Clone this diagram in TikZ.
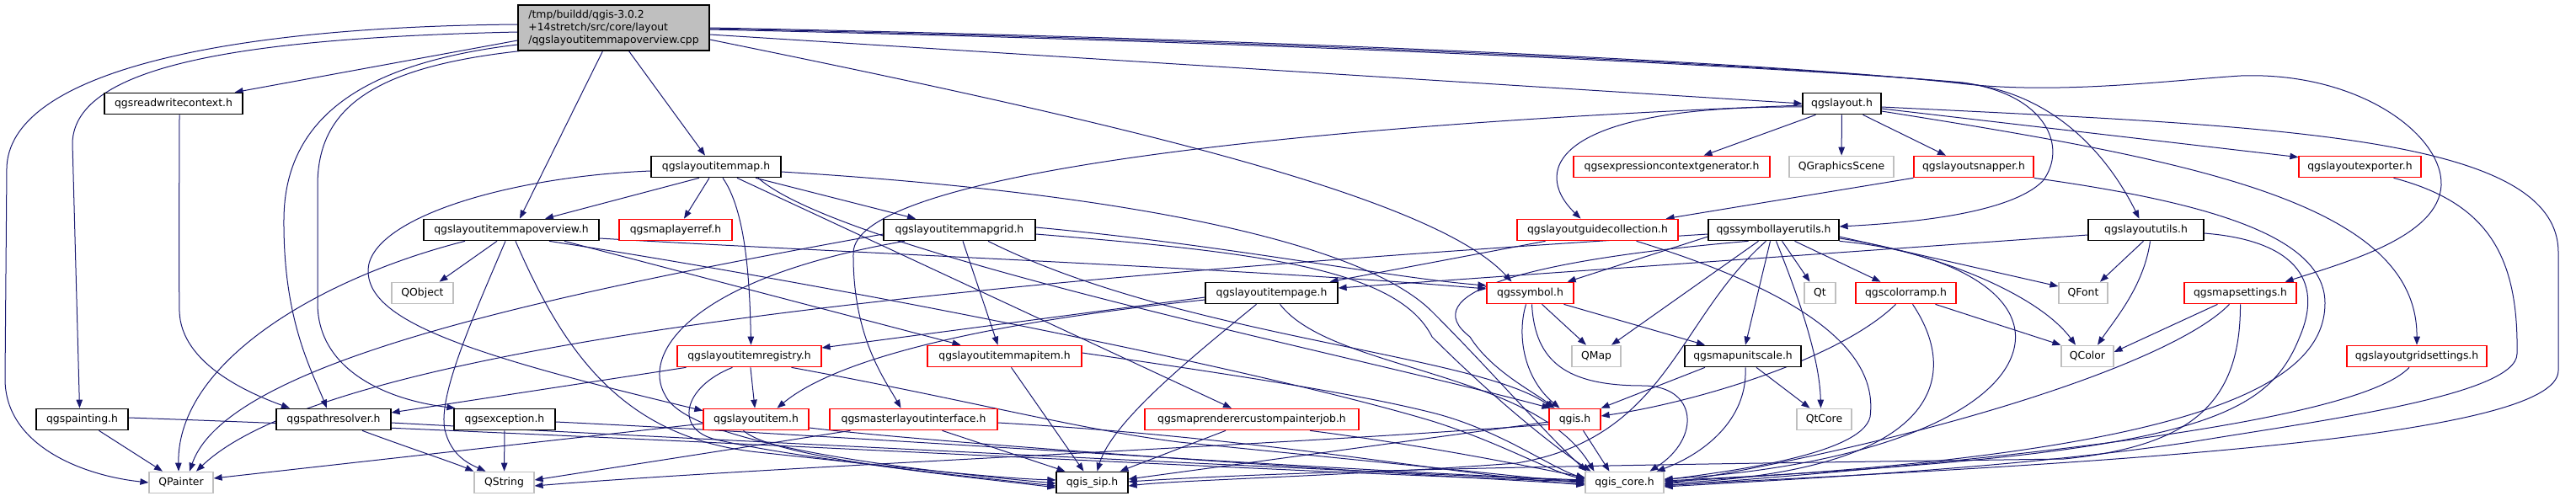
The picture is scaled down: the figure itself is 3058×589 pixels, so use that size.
\documentclass[tikz,border=0pt]{standalone}
\usepackage{fontspec}
\setmainfont{DejaVu Sans}
\usetikzlibrary{arrows.meta,calc}
\definecolor{edgec}{HTML}{191970}
\definecolor{mainfill}{HTML}{BFBFBF}
\definecolor{gborder}{HTML}{BFBFBF}
\pgfdeclarelayer{bg}
\pgfsetlayers{bg,main}
\tikzset{
  bbox/.style={draw=black, line width=1.2pt, fill=white, minimum height=25.5pt, inner sep=0pt, font=\fontsize{12.4}{15}\selectfont},
  rbox/.style={bbox, draw=red},
  gbox/.style={bbox, draw=gborder},
  e/.style={draw=edgec, line width=1pt, -{Triangle[length=10pt,width=7.5pt]}}
}
\begin{document}
\begin{tikzpicture}[x=1pt,y=-1pt]
\useasboundingbox (0,0) rectangle (3058,589);
% nodes
\node[bbox, fill=mainfill, minimum width=227pt, minimum height=54pt, align=left] (M) at (728.5,33) {/tmp/buildd/qgis-3.0.2\\+14stretch/src/core/layout\\/qgslayoutitemmapoverview.cpp};
\node[bbox, minimum width=164pt] (RWC) at (206,123) {qgsreadwritecontext.h};
\node[bbox, minimum width=109pt] (PNT) at (97.5,498) {qgspainting.h};
\node[bbox, minimum width=136pt] (PR) at (396,498) {qgspathresolver.h};
\node[gbox, minimum width=76pt] (QPainter) at (215,573) {QPainter};
\node[gbox, minimum width=73pt] (QObject) at (501.5,348) {QObject};
\node[bbox, minimum width=208pt] (MO) at (607,273) {qgslayoutitemmapoverview.h};
\node[bbox, minimum width=154pt] (IM) at (850,198) {qgslayoutitemmap.h};
\node[rbox, minimum width=134pt] (MLR) at (802,273) {qgsmaplayerref.h};
\node[rbox, minimum width=171pt] (REG) at (889.5,423) {qgslayoutitemregistry.h};
\node[bbox, minimum width=120pt] (EXC) at (599,498) {qgsexception.h};
\node[rbox, minimum width=125pt] (ITEM) at (897.5,498) {qgslayoutitem.h};
\node[gbox, minimum width=71pt] (QString) at (598.5,573) {QString};
\node[bbox, minimum width=180pt] (GRID) at (1139,273) {qgslayoutitemmapgrid.h};
\node[bbox, minimum width=157pt] (PAGE) at (1509.5,348) {qgslayoutitempage.h};
\node[rbox, minimum width=183pt] (IMI) at (1192.5,423) {qgslayoutitemmapitem.h};
\node[rbox, minimum width=199pt] (MLI) at (1084.5,498) {qgsmasterlayoutinterface.h};
\node[rbox, minimum width=254pt] (MRCPJ) at (1486,498) {qgsmaprenderercustompainterjob.h};
\node[bbox, minimum width=85pt] (SIP) at (1296.5,573) {qgis\_sip.h};
\node[rbox, minimum width=233pt] (ECG) at (1984.5,198) {qgsexpressioncontextgenerator.h};
\node[rbox, minimum width=191pt] (GC) at (1896.5,273) {qgslayoutguidecollection.h};
\node[rbox, minimum width=103pt] (SYM) at (1816.5,348) {qgssymbol.h};
\node[gbox, minimum width=58pt] (QMap) at (1895,423) {QMap};
\node[bbox, minimum width=138pt] (MUS) at (2069,423) {qgsmapunitscale.h};
\node[rbox, minimum width=61pt] (QGIS) at (1869.5,498) {qgis.h};
\node[gbox, minimum width=93pt] (CORE) at (1928.5,573) {qgis\_core.h};
\node[bbox, minimum width=93pt] (LAY) at (2186.5,123) {qgslayout.h};
\node[gbox, minimum width=124pt] (QGS) at (2186,198) {QGraphicsScene};
\node[rbox, minimum width=142pt] (SNAP) at (2343,198) {qgslayoutsnapper.h};
\node[bbox, minimum width=155pt] (SLU) at (2105.5,273) {qgssymbollayerutils.h};
\node[bbox, minimum width=137pt] (LU) at (2547.5,273) {qgslayoututils.h};
\node[gbox, minimum width=37pt] (Qt) at (2160.5,348) {Qt};
\node[rbox, minimum width=119pt] (CR) at (2262.5,348) {qgscolorramp.h};
\node[gbox, minimum width=58pt] (QFont) at (2473,348) {QFont};
\node[gbox, minimum width=65pt] (QtCore) at (2165.5,498) {QtCore};
\node[gbox, minimum width=62pt] (QColor) at (2478,423) {QColor};
\node[rbox, minimum width=145pt] (EXP) at (2801.5,198) {qgslayoutexporter.h};
\node[rbox, minimum width=133pt] (MS) at (2659.5,348) {qgsmapsettings.h};
\node[rbox, minimum width=166pt] (GS) at (2869,423) {qgslayoutgridsettings.h};

\begin{pgfonlayer}{bg}
% main file
\draw[e] ([yshift=-15pt]M.west) -- (RWC);
\draw[e] ([yshift=4pt]M.west) .. controls (250,32) and (10,90) .. (8,200) -- (6,450) .. controls (6,530) and (100,565) .. (QPainter.west);
\draw[e] ([yshift=-5pt]M.west) .. controls (300,45) and (88,75) .. (86,170) -- ([xshift=-3pt]PNT.north);
\draw[e] ([yshift=-20pt]M.west) .. controls (430,75) and (338,140) .. (337,260) .. controls (336,380) and (370,440) .. ([xshift=-8pt]PR.north);
\draw[e] ([xshift=3pt]M.south west) .. controls (440,80) and (377,130) .. (377,220) -- (377,360) .. controls (377,440) and (460,475) .. ([xshift=2pt]EXC.north west);
\draw[e] ([xshift=-13pt]M.south) -- ([xshift=10pt]MO.north);
\draw[e] ([xshift=18pt]M.south) -- ([xshift=-13pt]IM.north);
\draw[e] ([yshift=-14pt]M.east) .. controls (1300,140) and (1700,230) .. ([xshift=-22pt]SYM.north);
\draw[e] ([yshift=-8pt]M.east) -- (LAY.west);
\draw[e] ([yshift=-2pt]M.east) .. controls (1600,52) and (2150,82) .. (2330,98) .. controls (2430,112) and (2455,175) .. (2425,215) .. controls (2385,255) and (2260,265) .. ([yshift=4pt]SLU.east);
\draw[e] ([yshift=-1pt]M.east) .. controls (1600,50) and (2150,80) .. (2333,99) .. controls (2450,112) and (2510,200) .. ([xshift=-8pt]LU.north);
\draw[e] (M.east) .. controls (1600,48) and (2150,78) .. (2335,100) .. controls (2450,112) and (2580,95) .. (2660,90) .. controls (2800,85) and (2900,160) .. (2898,220) .. controls (2895,280) and (2790,310) .. ([xshift=-14pt]MS.north east);
% readwritecontext, painting, pathresolver, exception
\draw[e] ([xshift=7pt]RWC.south) .. controls (213,200) and (212,300) .. (213,370) .. controls (215,430) and (290,465) .. ([xshift=-52pt]PR.north);
\draw[e] ([xshift=20pt]PNT.south) -- ([xshift=-22pt]QPainter.north);
\draw[e] ([yshift=2pt]PNT.east) .. controls (700,515) and (1500,560) .. ([yshift=1pt]CORE.west);
\draw[e] ([xshift=34pt]PR.south) .. controls (480,530) and (540,550) .. (QString.north west);
\draw[e] ([yshift=-4pt]PR.east) .. controls (800,520) and (1500,555) .. ([yshift=2pt]CORE.west);
\draw[e] (EXC) -- (QString);
\draw[e] ([yshift=-3pt]EXC.east) .. controls (1000,517) and (1600,560) .. ([yshift=3pt]CORE.west);
% mapoverview
\draw[e] ([xshift=-17pt]MO.south) -- ([xshift=20pt]QObject.north);
\draw[e] ([xshift=-7pt]MO.south) .. controls (560,380) and (520,470) .. (528,510) .. controls (535,540) and (555,550) .. ([xshift=-22pt]QString.north);
\draw[e] ([xshift=5pt]MO.south) .. controls (670,420) and (740,520) .. (900,537) .. controls (1050,553) and (1180,568) .. ([yshift=3pt]SIP.west);
\draw[e] ([xshift=-55pt]MO.south) .. controls (380,330) and (210,430) .. ([xshift=-3pt]QPainter.north);
\draw[e] ([xshift=63pt]MO.south) -- ([xshift=-52pt]IMI.north);
\draw[e] ([yshift=-10pt]MO.east) .. controls (1000,300) and (1500,320) .. ([yshift=5pt]SYM.west);
\draw[e] ([xshift=45pt]MO.south) .. controls (1000,340) and (1500,440) .. (1700,500) .. controls (1780,525) and (1840,560) .. ([yshift=4pt]CORE.west);
% itemmap
\draw[e] ([xshift=-20pt]IM.south) -- ([xshift=40pt]MO.north);
\draw[e] ([xshift=-8pt]IM.south) -- ([xshift=10pt]MLR.north);
\draw[e] ([xshift=8pt]IM.south) .. controls (885,250) and (890,330) .. ([xshift=2pt]REG.north);
\draw[e] ([yshift=-5pt]IM.west) .. controls (600,210) and (440,260) .. (437,320) .. controls (435,380) and (550,420) .. ([yshift=-3pt]ITEM.north west);
\draw[e] ([xshift=47pt]IM.south) -- ([xshift=-52pt]GRID.north);
\draw[e] ([xshift=25pt]IM.south) -- ([xshift=-24pt]MRCPJ.north);
\draw[e] ([xshift=50pt]IM.south) .. controls (1000,300) and (1600,420) .. ([xshift=2pt]QGIS.north west);
\draw[e] ([yshift=-6pt]IM.east) .. controls (1350,230) and (1620,290) .. (1700,370) .. controls (1770,440) and (1830,510) .. ([xshift=2pt]CORE.north west);
% mapgrid
\draw[e] ([xshift=4pt]GRID.south) -- ([xshift=-8pt]IMI.north);
\draw[e] ([yshift=-5pt]GRID.west) .. controls (650,350) and (270,430) .. ([xshift=10pt]QPainter.north);
\draw[e] ([xshift=-65pt]GRID.south) .. controls (820,330) and (760,420) .. (790,470) .. controls (820,530) and (1100,560) .. ([yshift=-1pt]SIP.west);
\draw[e] ([yshift=3pt]GRID.east) .. controls (1450,290) and (1650,330) .. ([yshift=9pt]SYM.west);
\draw[e] ([xshift=34pt]GRID.south) .. controls (1400,400) and (1750,420) .. ([xshift=-26pt]QGIS.north);
\draw[e] ([yshift=-5pt]GRID.east) .. controls (1500,300) and (1660,320) .. (1700,400) .. controls (1760,460) and (1830,520) .. ([xshift=-40pt]CORE.north);
% registry
\draw[e] (REG) -- (ITEM);
\draw[e] ([xshift=-75pt]REG.south) -- ([yshift=8pt]PR.east);
\draw[e] ([xshift=-20pt]REG.south) .. controls (810,460) and (800,510) .. (850,522) .. controls (950,545) and (1150,566) .. ([yshift=-4pt]SIP.west);
\draw[e] ([xshift=50pt]REG.south) .. controls (1150,475) and (1280,510) .. (1400,525) .. controls (1600,545) and (1800,565) .. ([yshift=-1pt]CORE.west);
% layoutitem
\draw[e] ([yshift=-5pt]ITEM.west) -- ([yshift=5pt]QPainter.east);
\draw[e] ([xshift=-15pt]ITEM.south) .. controls (920,545) and (1150,566) .. ([yshift=-6pt]SIP.west);
\draw[e] ([yshift=-10pt]ITEM.east) .. controls (1100,525) and (1600,560) .. ([yshift=-2pt]CORE.west);
% mapitem, master, renderer
\draw[e] ([xshift=8pt]IMI.south) -- ([xshift=-10pt]SIP.north);
\draw[e] ([yshift=4pt]IMI.east) .. controls (1500,450) and (1620,470) .. (1700,490) .. controls (1780,510) and (1840,555) .. ([yshift=5pt]CORE.west);
\draw[e] ([xshift=-75pt]MLI.south) -- ([yshift=3pt]QString.east);
\draw[e] ([xshift=34pt]MLI.south) -- ([xshift=-32pt]SIP.north);
\draw[e] ([yshift=-4pt]MLI.east) .. controls (1500,520) and (1700,560) .. ([yshift=-3pt]CORE.west);
\draw[e] ([xshift=-31pt]MRCPJ.south) -- ([xshift=33pt]SIP.north);
\draw[e] ([xshift=69pt]MRCPJ.south) .. controls (1700,530) and (1820,555) .. ([yshift=6pt]CORE.west);
% page
\draw[e] ([yshift=-5pt]PAGE.west) -- ([yshift=10pt]REG.east);
\draw[e] ([yshift=-8pt]PAGE.west) .. controls (1200,380) and (1000,420) .. ([xshift=25pt]ITEM.north);
\draw[e] ([xshift=-18pt]PAGE.south) .. controls (1420,420) and (1320,500) .. ([xshift=6pt]SIP.north);
\draw[e] ([xshift=10pt]PAGE.south) .. controls (1580,440) and (1820,440) .. ([xshift=-36pt]CORE.north);
% symbol
\draw[e] ([xshift=-5pt]SYM.south) .. controls (1800,400) and (1810,450) .. ([xshift=-18pt]QGIS.north);
\draw[e] ([xshift=14pt]SYM.south) -- ([xshift=-12pt]QMap.north);
\draw[e] ([xshift=40pt]SYM.south) -- ([xshift=-45pt]MUS.north);
\draw[e] ([xshift=2pt]SYM.south) .. controls (1822,430) and (1860,458) .. (1950,458) .. controls (2015,458) and (2020,520) .. ([xshift=30pt]CORE.north);
% symbollayerutils
\draw[e] ([yshift=-8pt]SLU.west) -- ([xshift=-8pt]SYM.north east);
\draw[e] ([xshift=-18pt]SLU.south) -- ([xshift=18pt]QMap.north);
\draw[e] ([xshift=-9pt]SLU.south) .. controls (1990,380) and (1980,520) .. (1800,550) .. controls (1600,565) and (1400,570) .. ([yshift=-4pt]SIP.east);
\draw[e] ([xshift=-4pt]SLU.south) -- ([xshift=3pt]MUS.north);
\draw[e] ([xshift=3pt]SLU.south) .. controls (2130,340) and (2160,420) .. ([xshift=-4pt]QtCore.north);
\draw[e] ([xshift=10pt]SLU.south) -- ([xshift=-12pt]Qt.north);
\draw[e] ([xshift=25pt]SLU.south) -- ([xshift=-30pt]CR.north);
\draw[e] ([yshift=-8pt]SLU.east) -- ([yshift=8pt]QFont.west);
\draw[e] ([yshift=-10pt]SLU.east) .. controls (2300,300) and (2420,350) .. ([xshift=-14pt]QColor.north);
\draw[e] (SLU.south east) .. controls (2330,300) and (2420,360) .. (2385,430) .. controls (2350,500) and (2200,555) .. ([yshift=4pt]CORE.east);
\draw[e] ([yshift=-5pt]SLU.west) .. controls (1200,330) and (400,400) .. ([xshift=18pt]QPainter.north);
\draw[e] ([xshift=-30pt]SLU.south) .. controls (1800,310) and (1680,350) .. (1745,400) .. controls (1770,440) and (1820,465) .. ([xshift=-24pt]QGIS.north);
% layoututils
\draw[e] ([yshift=-6pt]LU.west) -- ([yshift=6pt]PAGE.east);
\draw[e] ([xshift=-3pt]LU.south) -- ([xshift=20pt]QFont.north);
\draw[e] ([xshift=5pt]LU.south) .. controls (2545,340) and (2510,380) .. ([xshift=12pt]QColor.north);
\draw[e] ([yshift=-4pt]LU.east) .. controls (2720,285) and (2760,330) .. (2730,400) .. controls (2690,500) and (2600,540) .. ([yshift=2pt]CORE.east);
% layout
\draw[e] ([xshift=-31pt]LAY.south) -- ([xshift=38pt]ECG.north);
\draw[e] (LAY) -- (QGS);
\draw[e] ([xshift=25pt]LAY.south) -- ([xshift=-33pt]SNAP.north);
\draw[e] ([yshift=-4pt]LAY.west) .. controls (1850,125) and (1815,200) .. ([xshift=-20pt]GC.north);
\draw[e] ([yshift=-2pt]LAY.west) .. controls (1500,150) and (1015,210) .. (1013,300) .. controls (1012,400) and (1050,450) .. ([xshift=-15pt]MLI.north);
\draw[e] ([yshift=-6pt]LAY.east) -- ([yshift=-2pt]EXP.north west);
\draw[e] ([yshift=-9pt]LAY.east) .. controls (2600,190) and (2870,240) .. (GS.north);
\draw[e] ([yshift=-4pt]LAY.east) .. controls (2700,150) and (3037,160) .. (3037,300) -- (3037,440) .. controls (3037,520) and (2500,550) .. ([yshift=-3pt]CORE.east);
% snapper, guide collection
\draw[e] (SNAP.south west) -- ([xshift=-15pt]GC.north east);
\draw[e] (SNAP.south east) .. controls (2620,240) and (2760,280) .. (2760,360) .. controls (2760,460) and (2600,540) .. ([yshift=1pt]CORE.east);
\draw[e] ([xshift=-62pt]GC.south) -- ([xshift=-10pt]PAGE.north east);
\draw[e] ([xshift=-50pt]GC.south east) .. controls (2150,350) and (2230,420) .. (2220,495) .. controls (2210,540) and (2050,560) .. ([yshift=3pt]CORE.east);
% mapunitscale, colorramp, qgis.h
\draw[e] ([xshift=-45pt]MUS.south) -- (QGIS.north east);
\draw[e] ([xshift=16pt]MUS.south) -- ([xshift=-17pt]QtCore.north);
\draw[e] ([xshift=3pt]MUS.south) .. controls (2075,500) and (2020,540) .. ([xshift=38pt]CORE.north);
\draw[e] ([xshift=-12pt]CR.south) .. controls (2180,430) and (2000,480) .. ([yshift=4pt]QGIS.east);
\draw[e] ([xshift=35pt]CR.south) -- (QColor.north west);
\draw[e] ([xshift=8pt]CR.south) .. controls (2330,450) and (2300,560) .. ([yshift=-1pt]CORE.east);
\draw[e] ([yshift=-3pt]QGIS.west) -- ([yshift=4pt]SIP.east);
\draw[e] ([yshift=-6pt]QGIS.west) .. controls (1500,530) and (900,555) .. ([yshift=-4pt]QString.east);
\draw[e] ([xshift=10pt]QGIS.south) -- ([xshift=-18pt]CORE.north);
% mapsettings, gridsettings, exporter
\draw[e] ([xshift=-27pt]MS.south) -- ([yshift=5pt]QColor.east);
\draw[e] ([xshift=-13pt]MS.south) .. controls (2580,430) and (2300,520) .. ([yshift=-2pt]CORE.east);
\draw[e] (MS.south) .. controls (2660,480) and (2600,530) .. (2450,545) .. controls (2100,550) and (1600,555) .. ([yshift=1pt]SIP.east);
\draw[e] ([xshift=-9pt]GS.south) .. controls (2800,500) and (2400,545) .. ([yshift=-4pt]CORE.east);
\draw[e] ([xshift=40pt]EXP.south) .. controls (2950,240) and (2990,300) .. (2988,420) .. controls (2988,470) and (2750,500) .. (2600,525) .. controls (2400,555) and (2150,568) .. ([yshift=-5pt]CORE.east);
\end{pgfonlayer}
\end{tikzpicture}
\end{document}
